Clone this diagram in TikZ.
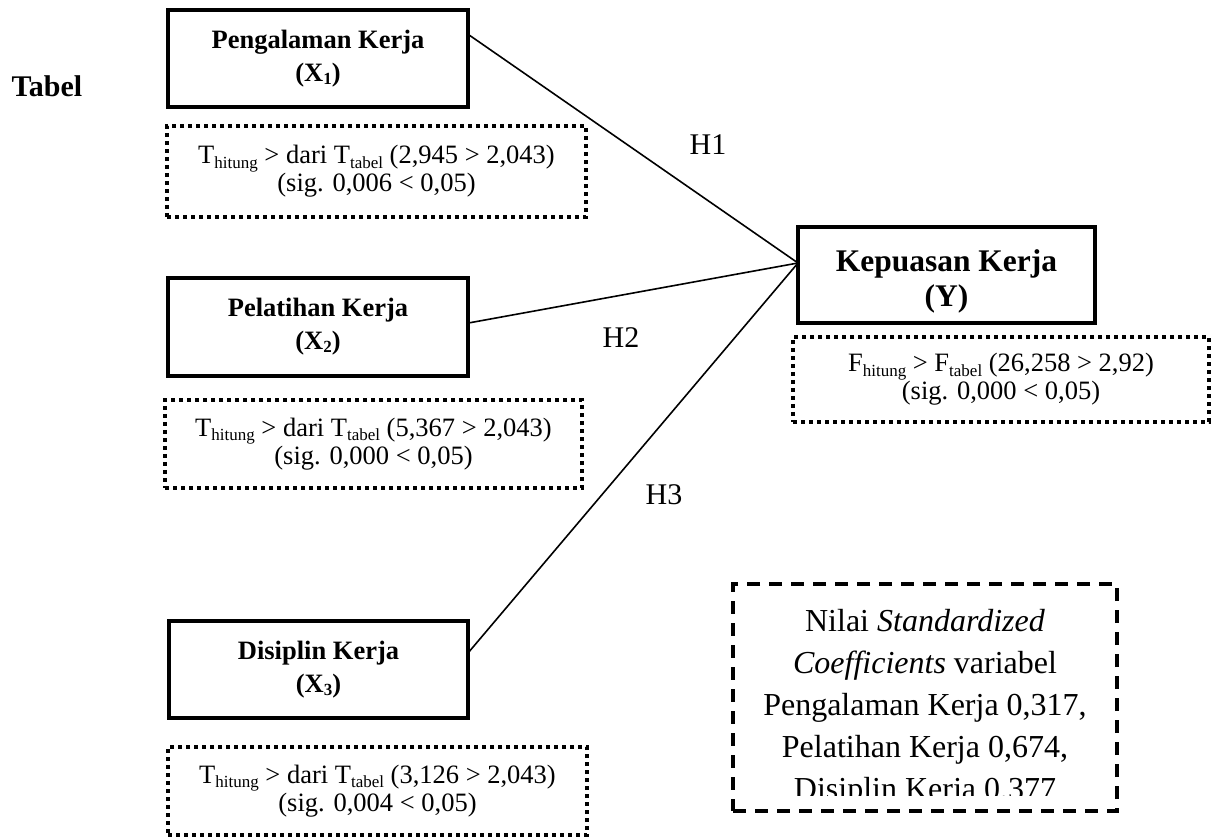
\documentclass[tikz,border=0pt]{standalone}
\usepackage{fontspec}
\setmainfont{Liberation Serif}
\usetikzlibrary{calc}
\newcommand\xsub[1]{\raisebox{-0.1em}{\fontsize{17}{17}\selectfont #1}}
\newcommand\tsub[1]{\raisebox{-0.17em}{\fontsize{17}{17}\selectfont #1}}
\tikzset{
  solidbox/.style={draw, line width=4pt, inner sep=0pt, outer sep=0pt, align=center,
    font=\fontsize{26.5}{33}\selectfont\bfseries},
  dotbox/.style={draw, line width=3.5pt, dash pattern=on 4pt off 4pt, inner sep=0pt,
    outer sep=0pt, align=center, font=\fontsize{26.5}{28}\selectfont},
  dashbox/.style={draw, line width=4pt, dash pattern=on 13pt off 9pt, inner sep=0pt, outer sep=0pt},
  link/.style={line width=1.6pt},
  hlabel/.style={font=\fontsize{30}{30}\selectfont, inner sep=0pt}
}
\begin{document}
\begin{tikzpicture}[x=1pt,y=-1pt]
\useasboundingbox (0,0) rectangle (1211,837);
% title
\node[font=\fontsize{30}{30}\selectfont\bfseries, inner sep=0pt] (T) at (47,86) {Tabel};
% boxes
\node[solidbox, minimum width=300pt, minimum height=97pt] (X1) at (318,58.5) {Pengalaman Kerja\\(X\xsub{1})};
\node[solidbox, minimum width=300pt, minimum height=98pt] (X2) at (318,327) {Pelatihan Kerja\\(X\xsub{2})};
\node[solidbox, minimum width=299pt, minimum height=97pt] (X3) at (318.5,669.5) {Disiplin Kerja\\(X\xsub{3})};
\node[solidbox, minimum width=297pt, minimum height=96pt] (Y) at (946.5,275) {};
\node[inner sep=0pt, align=center, font=\fontsize{31.5}{35}\selectfont\bfseries] (YT) at (946.5,281) {Kepuasan Kerja\\(Y)};
% dotted boxes
\node[dotbox, minimum width=419pt, minimum height=91pt] (D1) at (376.5,171.5) {T\tsub{hitung} > dari T\tsub{tabel}\ (2,945 > 2,043)\\(sig. 0,006 < 0,05)};
\node[dotbox, minimum width=417pt, minimum height=88pt] (D2) at (373.5,444) {T\tsub{hitung} > dari T\tsub{tabel}\ (5,367 > 2,043)\\(sig. 0,000 < 0,05)};
\node[dotbox, minimum width=419pt, minimum height=88pt] (D3) at (377.5,791) {T\tsub{hitung} > dari T\tsub{tabel}\ (3,126 > 2,043)\\(sig. 0,004 < 0,05)};
\node[dotbox, minimum width=416pt, minimum height=85pt] (DY) at (1001,379.5) {F\tsub{hitung} > F\tsub{tabel} (26,258 > 2,92)\\(sig. 0,000 < 0,05)};
% dashed note
\node[dashbox, minimum width=384pt, minimum height=227pt] (N) at (925,697.5) {};
\begin{scope}
\clip (733,584) rectangle (1117,795);
\node[inner sep=0pt, align=center, font=\fontsize{32}{42}\selectfont] (NT) at (925,708)
  {Nilai \textit{Standardized}\\\textit{Coefficients} variabel\\Pengalaman Kerja 0,317,\\Pelatihan Kerja 0,674,\\Disiplin Kerja 0,377};
\end{scope}
% connectors
\coordinate (J) at ($(Y.north west)!0.375!(Y.south west)$);
\coordinate (S1) at ($(X1.north east)!0.25!(X1.south east)$);
\coordinate (S2) at ($(X2.north east)!0.46!(X2.south east)$);
\coordinate (S3) at ($(X3.north east)!0.33!(X3.south east)$);
\draw[link] (S1) -- (J);
\draw[link] (S2) -- (J);
\draw[link] (S3) -- (J);
% hypothesis labels
\node[hlabel] (H1) at (708,145) {H1};
\node[hlabel] (H2) at (621,338) {H2};
\node[hlabel] (H3) at (664,495) {H3};
\end{tikzpicture}
\end{document}
